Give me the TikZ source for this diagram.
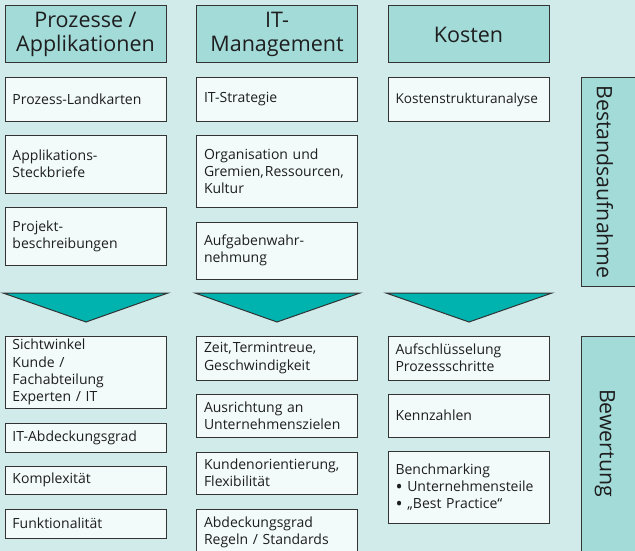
\documentclass[tikz,border=0pt]{standalone}
\usepackage{fontspec}
\setmainfont{Open Sans}
\definecolor{bgcol}{HTML}{D1EBEB}
\definecolor{headcol}{HTML}{A3DBD9}
\definecolor{boxcol}{HTML}{F2FAFA}
\definecolor{tricol}{HTML}{00B3AF}
\definecolor{linecol}{HTML}{333333}
\definecolor{textcol}{HTML}{1E1E1E}
\newcommand{\bigbul}{\raisebox{-1.7pt}[0pt][0pt]{\scalebox{1.35}{\textbullet}}}
\tikzset{
  basebox/.style={draw=linecol, line width=1pt, rectangle, inner ysep=0pt, text=textcol},
  itembox/.style={basebox, fill=boxcol, text width=146pt, inner xsep=7.5pt, align=left,
    font=\fontsize{14}{17.2}\selectfont},
  headbox/.style={basebox, fill=headcol, minimum width=161pt, minimum height=57pt, align=center,
    font=\fontsize{21.5}{24}\selectfont},
  sidebox/.style={basebox, fill=headcol, minimum width=64pt},
  sidetext/.style={rotate=-90, text=textcol, font=\fontsize{21.3}{24}\selectfont},
  tri/.style={draw=linecol, line width=1pt, fill=tricol, line join=miter}
}
\begin{document}
\begin{tikzpicture}[x=1pt,y=-1pt]
\fill[bgcol] (0,0) rectangle (635,551);
\useasboundingbox (0,0) rectangle (635,551);
\begin{scope}
\clip (0,0) rectangle (635,551);
% headers
\node[headbox] (h1) at (85.5,34.5) {Prozesse /\\Applikationen};
\node[headbox] (h2) at (277,34.5) {IT-\\Management};
\node[headbox] (h3) at (468.5,34.5) {Kosten};
% Bestandsaufnahme column 1
\node[itembox, minimum height=43pt] (p1) at (85.5,99.5) {Prozess-Landkarten};
\node[itembox, minimum height=58pt] (p2) at (85.5,164) {Applikations-\\Steckbriefe};
\node[itembox, minimum height=58pt] (p3) at (85.5,236) {Projekt-\\beschreibungen};
% column 2
\node[itembox, minimum height=43pt] (i1) at (277,99.5) {IT-Strategie};
\node[itembox, minimum height=72pt] (i2) at (277,171) {Organisation und\\\mbox{Gremien,\kern1pt Ressourcen,}\\Kultur};
\node[itembox, minimum height=57pt] (i3) at (277,250.5) {Aufgabenwahr-\\nehmung};
% column 3
\node[itembox, minimum height=43pt, font=\fontsize{13.6}{17}\selectfont] (k1) at (468.5,99.5) {\mbox{Kostenstrukturanalyse}};
% side boxes
\node[sidebox, minimum height=208pt] (sb1) at (613,182) {};
\node[sidetext] (sb1t) at (605,182) {Bestandsaufnahme};
\node[sidebox, minimum height=224pt] (sb2) at (613,448) {};
\node[sidetext] (sb2t) at (605,443) {Bewertung};
% triangles
\draw[tri] (3,293) -- (168,293) -- (86,322) -- cycle;
\draw[tri] (195,293) -- (360,293) -- (277,322) -- cycle;
\draw[tri] (386,293) -- (552,293) -- (469,322) -- cycle;
% Bewertung column 1
\node[itembox, minimum height=72pt] (s1) at (85.5,372) {Sichtwinkel\\Kunde /\\Fachabteilung\\Experten / IT};
\node[itembox, minimum height=29pt] (s2) at (85.5,437.5) {IT-Abdeckungsgrad};
\node[itembox, minimum height=28pt] (s3) at (85.5,480) {Komplexität};
\node[itembox, minimum height=29pt] (s4) at (85.5,523.5) {Funktionalität};
% column 2
\node[itembox, minimum height=44pt] (z1) at (277,358) {\mbox{Zeit,\kern1pt Termintreue,}\\Geschwindigkeit};
\node[itembox, minimum height=43pt] (z2) at (277,415.5) {Ausrichtung an\\\mbox{Unternehmenszielen}};
\node[itembox, minimum height=42pt] (z3) at (277,473) {\mbox{Kundenorientierung,}\\Flexibilität};
\node[itembox, minimum height=46pt] (z4) at (277,532) {Abdeckungsgrad\\Regeln / Standards};
% column 3
\node[itembox, minimum height=44pt] (a1) at (468.5,358) {Aufschlüsselung\\Prozessschritte};
\node[itembox, minimum height=43pt] (a2) at (468.5,415.5) {Kennzahlen};
\node[itembox, minimum height=72pt] (a3) at (468.5,487) {Benchmarking\\\bigbul\ Unternehmensteile\\\bigbul\ „Best Practice“};
\end{scope}
\end{tikzpicture}
\end{document}
